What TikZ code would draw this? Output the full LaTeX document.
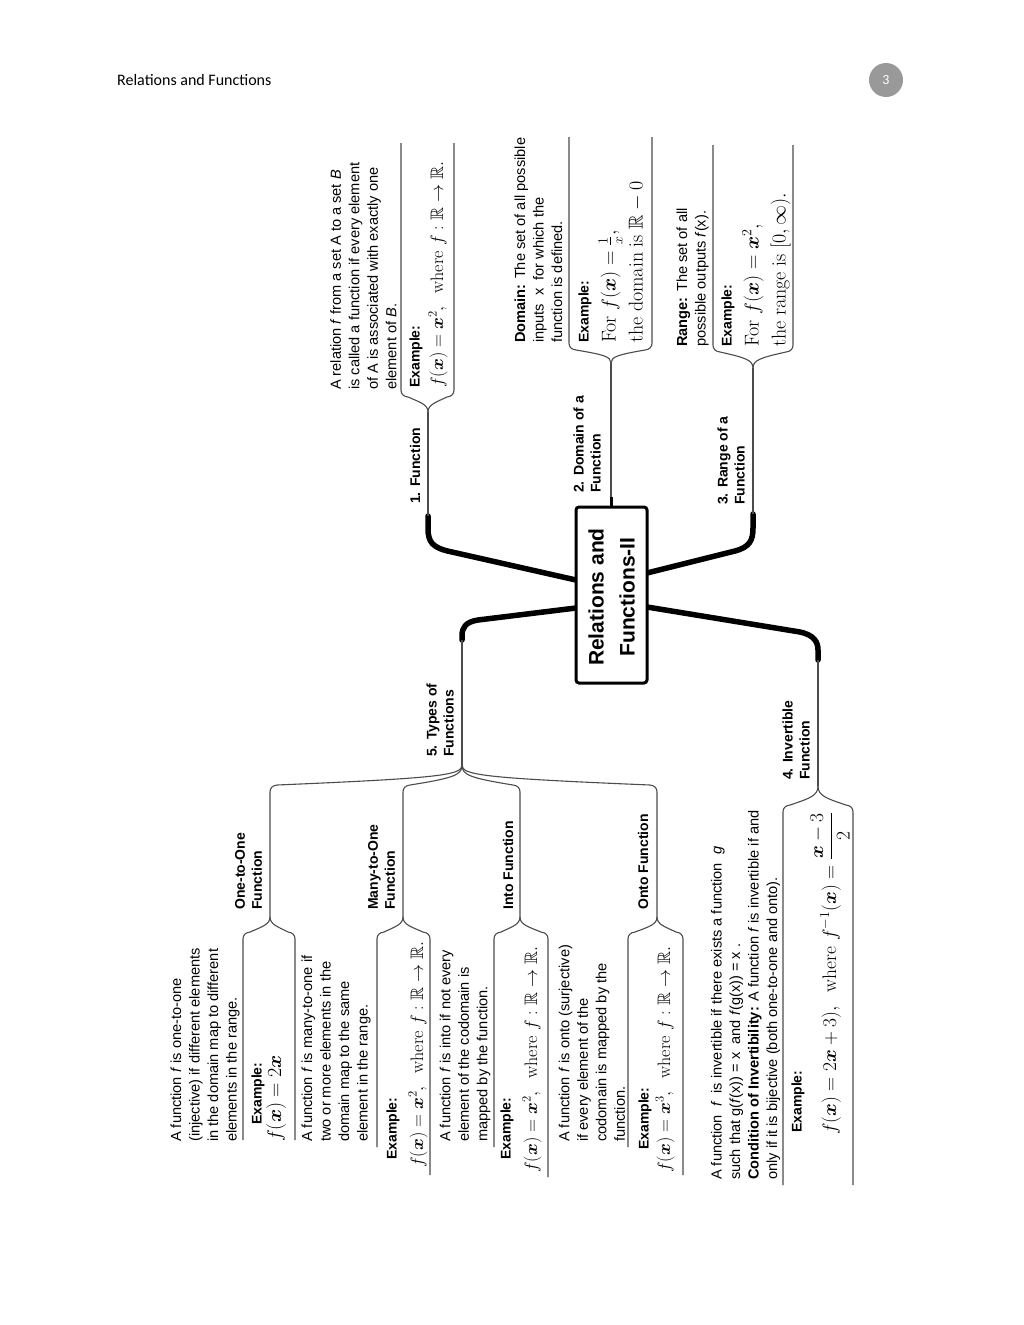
\RequirePackage{fix-cm}
\documentclass[tikz,border=0pt]{standalone}
\usepackage{amsmath,amssymb,bm}
\usepackage[no-math]{fontspec}
\setmainfont{Liberation Sans}
\newfontfamily\hdrfont{Carlito}
\usetikzlibrary{calc}
\tikzset{
  thinln/.style={draw=black!70, line width=1.1pt},
  thickln/.style={draw=black, line width=5.5pt, line cap=round},
  lbl/.style={rotate=90, anchor=west, inner sep=0pt, align=left, font=\bfseries\fontsize{14}{17}\selectfont},
  body/.style={rotate=90, anchor=west, inner sep=0pt, align=left, font=\fontsize{14.6}{18.5}\selectfont},
  exl/.style={rotate=90, anchor=west, inner sep=0pt, font=\bfseries\fontsize{14}{17}\selectfont},
  fml/.style={rotate=90, anchor=west, inner sep=0pt, align=left, font=\fontsize{18}{27}\selectfont},
  fmlbig/.style={rotate=90, anchor=west, inner sep=0pt, align=left, font=\fontsize{20}{27}\selectfont},
}
\newcommand\mmbrace[5]{%
  \pgfmathsetmacro\mbdx{#3-(#1)}%
  \pgfmathsetmacro\mbdy{#4-(#2)}%
  \pgfmathsetmacro\mbsx{sign(\mbdx)}%
  \pgfmathsetmacro\mbsy{sign(\mbdy)}%
  \pgfmathsetmacro\mbcx{(\mbsx)*max(8,0.1*abs(\mbdx))}%
  \draw[thinln] (#1,#2) .. controls (#1,{#2+0.5*(\mbdy)}) and ({#1+(\mbcx)},{#2+0.65*(\mbdy)}) .. ({#3-7*(\mbsx)},#4) .. controls ({#3-2.5*(\mbsx)},{#4+0.5*(\mbsy)}) and (#3,{#4+3*(\mbsy)}) .. (#3,{#4+7*(\mbsy)}) -- (#3,#5);%
}
\begin{document}
\begin{tikzpicture}[x=1pt,y=-1pt]
\fill[white] (0,0) rectangle (1024,1325);
\useasboundingbox (0,0) rectangle (1024,1325);

% header
\node[anchor=west, font=\hdrfont\fontsize{16}{19}\selectfont, inner sep=0pt] (hdr) at (117,80) {Relations and Functions};
\node[circle, fill=black!40, minimum size=34pt, inner sep=0pt, text=white, font=\hdrfont\fontsize{14}{16}\selectfont] (pg) at (886,80) {3};

% connector points
\coordinate (rUL) at (576,580);
\coordinate (rLL) at (576,608);
\coordinate (rUR) at (647,573);
\coordinate (rLR) at (647,607);
\coordinate (rT) at (611,508);
\coordinate (rT2) at (611,497);
\coordinate (f1) at (428,516);
\coordinate (f3) at (753,514);
\coordinate (f5) at (462,640);
\coordinate (f4) at (818,660);
\coordinate (tipF) at (428,412);
\coordinate (tipD) at (611,363);
\coordinate (tipR) at (753,368);
\coordinate (tipI) at (818,786);
\coordinate (tipT) at (462,765);

% thick connectors
\draw[thickln] (rUL) -- (452,552) .. controls (432,548) and (428,542) .. (428,528) -- (f1);
\draw[thickln] (rUR) -- (735,551) .. controls (750,547) and (753,540) .. (753,528) -- (f3);
\draw[thickln] (rLL) -- (478,620) .. controls (465,622) and (462,628) .. (462,636) -- (f5);
\draw[thickln] (rLR) -- (800,632) .. controls (814,635) and (818,642) .. (818,650) -- (f4);
\draw[line width=3pt] (rT) -- (rT2);

% thin stems
\draw[thinln] (f1) -- (tipF);
\draw[thinln] (rT2) -- (tipD);
\draw[thinln] (f3) -- (tipR);
\draw[thinln] (f4) -- (tipI);
\draw[thinln] (f5) -- (tipT);

% braces
\mmbrace{428}{412}{401}{397}{143}
\mmbrace{428}{412}{454}{397}{143}
\mmbrace{611}{363}{569}{350}{137}
\mmbrace{611}{363}{652}{350}{137}
\mmbrace{753}{368}{713}{352}{145}
\mmbrace{753}{368}{793}{352}{145}
\mmbrace{818}{786}{783}{805}{1185}
\mmbrace{818}{786}{853}{805}{1185}
\mmbrace{462}{765}{270}{785}{917}
\mmbrace{462}{765}{403}{785}{917}
\mmbrace{462}{765}{520}{785}{917}
\mmbrace{462}{765}{657}{785}{917}
\mmbrace{270}{917}{243}{932}{1140}
\mmbrace{270}{917}{295}{932}{1140}
\mmbrace{403}{917}{377}{932}{1147}
\mmbrace{403}{917}{430}{932}{1175}
\mmbrace{520}{917}{494}{932}{1147}
\mmbrace{520}{917}{548}{932}{1177}
\mmbrace{657}{917}{628}{932}{1147}
\mmbrace{657}{917}{683}{932}{1175}

% root
\node[draw=black, fill=white, line width=3pt, rounded corners=3pt, minimum width=71pt, minimum height=176pt, inner sep=0pt] (root) at (611.5,595) {};
\node[rotate=90, align=center, inner sep=0pt, font=\bfseries\fontsize{21}{31}\selectfont] (roottxt) at (611.5,597) {Relations and\\Functions-II};

% 1. Function
\node[lbl] (lF) at (415,504) {1. Function};
\node[body] (defF) at (363.5,390) {A relation \textit{f} from a set A to a set \textit{B}\\is called a function if every element\\of A is associated with exactly one\\element of \textit{B}.};
\node[exl] (exF) at (416,388) {Example:};
\node[fml] (fmF) at (438,388) {$f(\bm{x}) = \bm{x}^2,\ \ \mathrm{where}\ f:\mathbb{R}\rightarrow\mathbb{R}.$};

% 2. Domain
\node[lbl] (lD) at (587,493) {2. Domain of a\\Function};
\node[body] (defD) at (538.5,343) {\textbf{Domain:} The set of all possible\\inputs~ x~ for which the\\function is defined.};
\node[exl] (exD) at (585,343) {Example:};
\node[fmlbig] (fmD) at (621.5,343) {$\mathrm{For}\ f(\bm{x}) = \frac{1}{x},$\\$\mathrm{the\ domain\ is}\ \mathbb{R}-0$};

% 3. Range
\node[lbl] (lR) at (731,505) {3. Range of a\\Function};
\node[body] (defR) at (692.5,347) {\textbf{Range:} The set of all\\possible outputs \textit{f}(x).};
\node[exl] (exR) at (728,347) {Example:};
\node[fmlbig] (fmR) at (766.5,347) {$\mathrm{For}\ f(\bm{x}) = \bm{x}^2,$\\$\mathrm{the\ range\ is}\ [0,\infty).$};

% 4. Invertible
\node[lbl] (lI) at (796,780) {4. Invertible\\Function};
\node[body] (defI) at (745.5,1180) {A function~ \textit{f}~ is invertible if there exists a function~ \textit{g}\\such that g(\textit{f}(x)) = x~ and \textit{f}(g(x)) = x~.\\\textbf{Condition of Invertibility:} A function \textit{f} is invertible if and\\only if it is bijective (both one-to-one and onto).};
\node[exl] (exI) at (798,1133) {Example:};
\node[fml, font=\fontsize{19.5}{27}\selectfont] (fmI) at (830,1135) {$f(\bm{x}) = 2\bm{x}+3),\ \ \mathrm{where}\ f^{-1}(\bm{x}) = \dfrac{\bm{x}-3}{2}$};

% 5. Types
\node[lbl] (lT) at (440,757) {5. Types of\\Functions};
\node[lbl] (l11) at (248.5,910) {One-to-One\\Function};
\node[lbl] (lM1) at (381.5,910) {Many-to-One\\Function};
\node[lbl] (lIn) at (508,910) {Into Function};
\node[lbl] (lOn) at (643,910) {Onto Function};

\node[body] (def11) at (205,1142) {A function \textit{f} is one-to-one\\(injective) if different elements\\in the domain map to different\\elements in the range.};
\node[exl] (ex11) at (258,1125) {Example:};
\node[fmlbig] (fm11) at (276,1142) {$f(\bm{x}) = 2\bm{x}$};

\node[body] (defM1) at (336,1142) {A function \textit{f} is many-to-one if\\two or more elements in the\\domain map to the same\\element in the range.};
\node[exl] (exM1) at (393,1160) {Example:};
\node[fml] (fmM1) at (418,1168) {$f(\bm{x}) = \bm{x}^2,\ \ \mathrm{where}\ f:\mathbb{R}\rightarrow\mathbb{R}.$};

\node[body] (defIn) at (465,1142) {A function \textit{f} is into if not every\\element of the codomain is\\mapped by the function.};
\node[exl] (exIn) at (507,1160) {Example:};
\node[fml] (fmIn) at (532,1173) {$f(\bm{x}) = \bm{x}^2,\ \ \mathrm{where}\ f:\mathbb{R}\rightarrow\mathbb{R}.$};

\node[body] (defOn) at (592,1142) {A function \textit{f} is onto (surjective)\\if every element of the\\codomain is mapped by the\\function.};
\node[exl] (exOn) at (645,1150) {Example:};
\node[fml] (fmOn) at (665,1173) {$f(\bm{x}) = \bm{x}^3,\ \ \mathrm{where}\ f:\mathbb{R}\rightarrow\mathbb{R}.$};
\end{tikzpicture}
\end{document}
